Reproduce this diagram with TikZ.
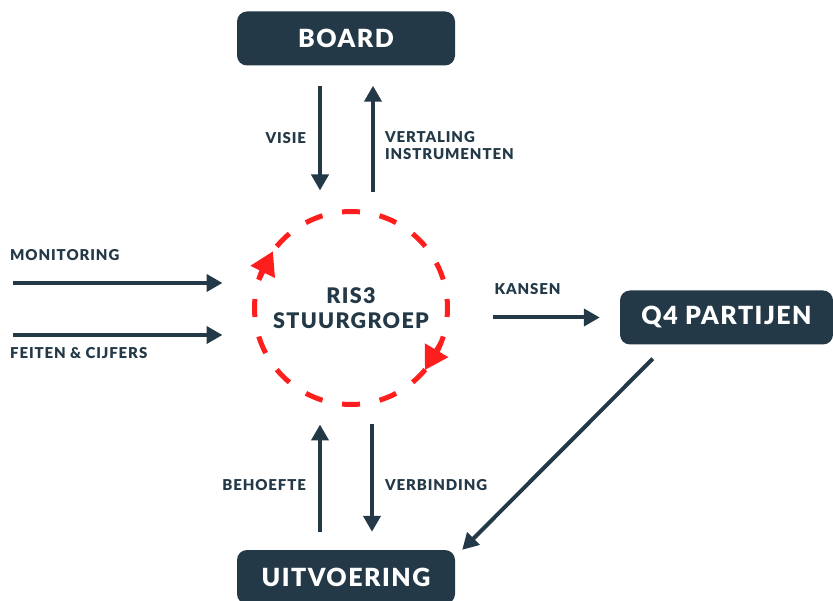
\documentclass[tikz,border=0pt]{standalone}
\usepackage{fontspec}
\setmainfont{Lato}[BoldFont={Lato Black},LetterSpace=6]
\usetikzlibrary{arrows.meta,positioning}
\definecolor{slate}{RGB}{36,57,71}
\definecolor{spinred}{RGB}{255,30,30}

\begin{document}
\begin{tikzpicture}[x=1pt,y=-1pt,
    box/.style={fill=slate,rounded corners=10pt,text=white,font=\bfseries\fontsize{25}{29}\selectfont,minimum height=54pt,inner sep=0pt},
    flow/.style={draw=slate,line width=4pt,-{Triangle[length=16pt,width=17pt]}},
    lbl/.style={text=slate,font=\bfseries\fontsize{15}{17}\selectfont,inner sep=0pt,align=left},
    spin/.style={draw=spinred,line width=5pt,-{Triangle[length=23pt,width=26pt]}}]
\useasboundingbox (0,0) rectangle (833,601);

% boxes
\node[box,minimum width=218pt] (board) at (346,38.5) {BOARD};
\node[box,minimum width=213pt] (partners) at (726.5,317.5) {Q4 PARTIJEN};
\node[box,minimum width=218pt] (exec) at (346,577) {UITVOERING};

% stuurgroep with dashed loop
\node[circle,draw=spinred,line width=5pt,dash pattern=on 18pt off 19.9pt,dash phase=9pt,
      minimum size=193pt,outer sep=0pt,text=slate,align=center,
      font=\bfseries\fontsize{21.5}{25}\selectfont] (ring) at (351,308) {RIS3\\STUURGROEP};
\draw[spin] (ring.163) -- (ring.144);
\draw[spin] (ring.339) -- (ring.320);

% board <-> stuurgroep
\draw[flow] ([xshift=-26pt,yshift=-20pt]board.south) -- node[lbl,left=12pt] (visie) {VISIE} ([xshift=-31pt,yshift=21pt]ring.north);
\draw[flow] ([xshift=22pt,yshift=19pt]ring.north) -- node[lbl,right=10pt,yshift=-6pt] (vertaling) {VERTALING\\INSTRUMENTEN} ([xshift=27pt,yshift=-20pt]board.south);

% inputs
\coordinate (mon) at (13,283);
\coordinate (feit) at (13,335);
\draw[flow] (mon) -- ([xshift=-32pt]mon -| ring.west);
\draw[flow] (feit) -- ([xshift=-32pt]feit -| ring.west);
\node[lbl,anchor=base west] (monitoring) at ([xshift=-3pt,yshift=22pt]mon) {MONITORING};
\node[lbl,anchor=base west] (feiten) at ([xshift=-3pt,yshift=-24pt]feit) {FEITEN \& CIJFERS};

% stuurgroep -> partijen -> uitvoering
\draw[flow] ([xshift=45pt]ring.east |- partners.west) -- node[lbl,pos=0,anchor=base west,yshift=23pt] (kansen) {KANSEN} ([xshift=-20pt]partners.west);
\draw[flow] ([xshift=33pt,yshift=-14pt]partners.south west) -- ([xshift=7pt]exec.north east);

% uitvoering <-> stuurgroep
\draw[flow] ([xshift=-26pt,yshift=18pt]exec.north) -- node[lbl,left=12pt,yshift=-7pt] (behoefte) {BEHOEFTE} ([xshift=-31pt,yshift=-20pt]ring.south);
\draw[flow] ([xshift=21pt,yshift=-20pt]ring.south) -- node[lbl,right=11pt,yshift=-7pt] (verbinding) {VERBINDING} ([xshift=26pt,yshift=18pt]exec.north);
\end{tikzpicture}
\end{document}
